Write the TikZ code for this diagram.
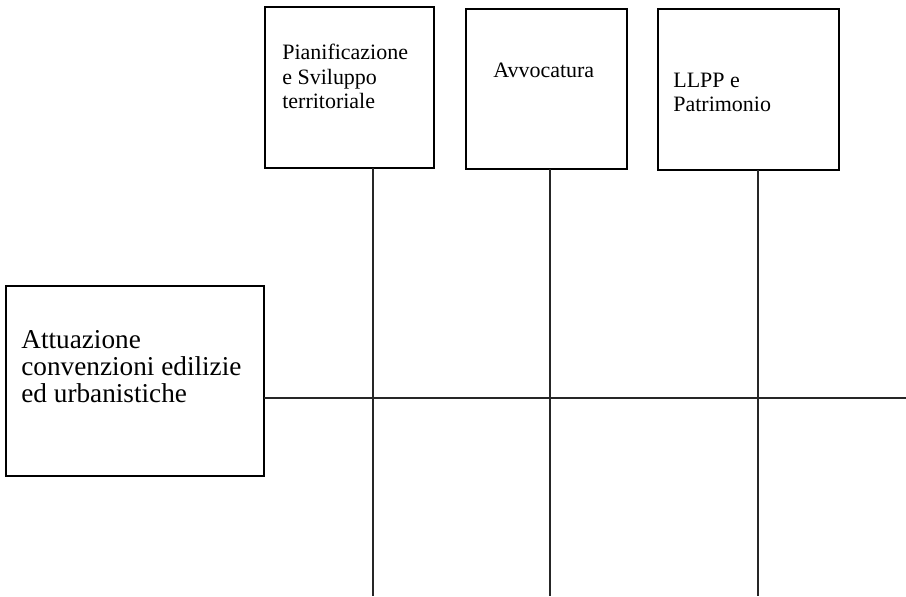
\documentclass[tikz,border=0pt]{standalone}
\usepackage{fontspec}
\setmainfont{Liberation Serif}
\usetikzlibrary{positioning}

\begin{document}
\begin{tikzpicture}[x=0.02cm,y=-0.02cm,
  box/.style={shape=rectangle,draw=black,line width=0.65pt,inner sep=0pt,outer sep=0pt},
  lbl/.style={align=left,inner sep=0pt,font=\fontsize{12.5}{13.8}\selectfont},
  biglbl/.style={align=left,inner sep=0pt,font=\fontsize{15.5}{15.5}\selectfont},
  link/.style={draw=black!85,line width=0.6pt}]
\useasboundingbox (0,0) rectangle (906,596);
\node[box,minimum width=3.38cm,minimum height=3.22cm] (P) at (349.5,87.5) {};
\node[box,minimum width=3.22cm,minimum height=3.2cm] (A) at (546.5,89) {};
\node[box,minimum width=3.62cm,minimum height=3.22cm] (L) at (748.5,89.5) {};
\node[box,minimum width=5.16cm,minimum height=3.8cm] (C) at (135,381) {};
\node[lbl,below right=0.74cm and 0.34cm of P.north west] (Ptext) {Pianificazione\\e Sviluppo\\territoriale};
\node[lbl,below right=1.08cm and 0.54cm of A.north west] (Atext) {Avvocatura};
\node[lbl,below right=1.28cm and 0.30cm of L.north west] (Ltext) {LLPP e\\Patrimonio};
\node[biglbl,below right=0.88cm and 0.30cm of C.north west] (Ctext) {Attuazione\\convenzioni edilizie\\ed urbanistiche};
\coordinate (P0) at (373,596);
\coordinate (A0) at (550,596);
\coordinate (L0) at (758,596);
\coordinate (H0) at (906,398);
\path [link] (P.south -| P0) edge (P0);
\path [link] (A.south -| A0) edge (A0);
\path [link] (L.south -| L0) edge (L0);
\path [link] (C.east |- H0) edge (H0);
\end{tikzpicture}
\end{document}
